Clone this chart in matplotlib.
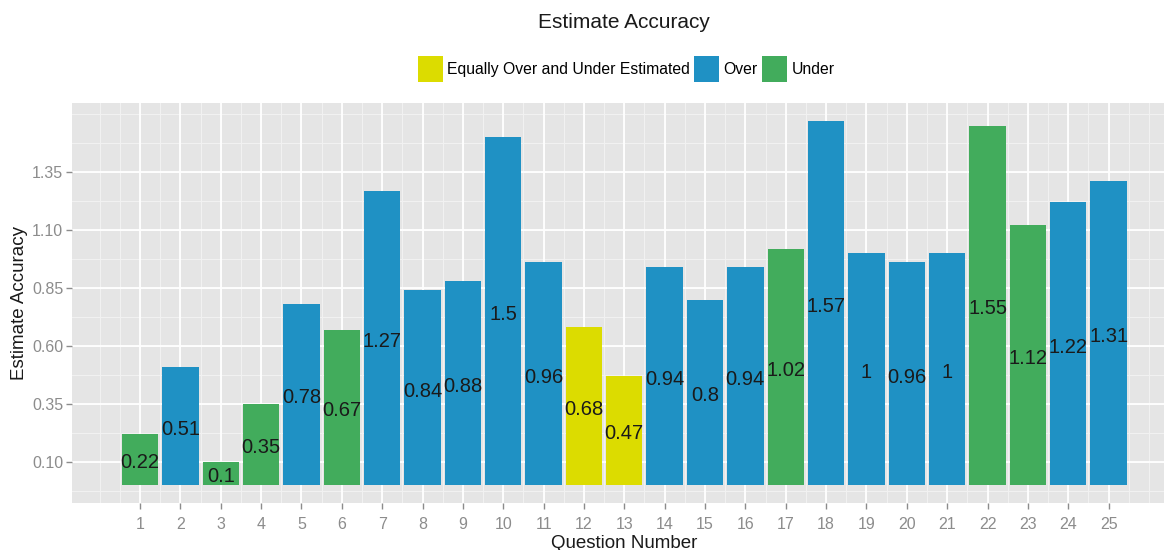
import numpy as np
import matplotlib
matplotlib.use('Agg')
import matplotlib.pyplot as plt
from matplotlib.patches import Patch

plt.rcParams['font.family'] = ['Liberation Sans', 'DejaVu Sans']

# data
questions = list(range(1, 26))
accuracy = [0.22, 0.51, 0.1, 0.35, 0.78, 0.67, 1.27, 0.84, 0.88, 1.5,
            0.96, 0.68, 0.47, 0.94, 0.8, 0.94, 1.02, 1.57, 1, 0.96,
            1, 1.55, 1.12, 1.22, 1.31]
estimate = ['Under', 'Over', 'Under', 'Under', 'Over', 'Under', 'Over', 'Over', 'Over', 'Over',
            'Over', 'Equally Over and Under Estimated', 'Equally Over and Under Estimated',
            'Over', 'Over', 'Over', 'Under', 'Over', 'Over', 'Over',
            'Over', 'Under', 'Under', 'Over', 'Over']
groups = ['Equally Over and Under Estimated', 'Over', 'Under']
y_breaks = [0.10, 0.35, 0.60, 0.85, 1.10, 1.35]

colors = {'Equally Over and Under Estimated': '#DCDC00',
          'Over': '#1F91C4',
          'Under': '#42AC5C'}

fig = plt.figure(figsize=(11.64, 5.5), dpi=100)
W, H = 1164, 550
left, right, top, bottom = 71.6, 1177, 103, 503
ax = fig.add_axes([left / W, 1 - bottom / H, (right - left) / W, (bottom - top) / H])
ax.set_facecolor('#E5E5E5')
for s in ax.spines.values():
    s.set_visible(False)

# ggplot-like limits: bars width 0.9, 5% expansion
xlo, xhi = 0.55, 25.45
ymax = max(accuracy)
ax.set_xlim(xlo - 0.05 * (xhi - xlo), xhi + 0.05 * (xhi - xlo))
ax.set_ylim(-0.05 * ymax, ymax * 1.05)

# grid: minor lines (incl. extension beyond breaks), then major
x_minor = np.arange(0, 26.01, 0.5)
y_minor = np.arange(y_breaks[0] - 0.25, y_breaks[-1] + 0.251, 0.125)
for xv in x_minor:
    ax.axvline(xv, color='#F2F2F2', lw=0.7, zorder=0)
for yv in y_minor:
    ax.axhline(yv, color='#F2F2F2', lw=0.7, zorder=0)
for xv in questions:
    ax.axvline(xv, color='white', lw=1.3, zorder=0.5)
for yv in y_breaks:
    ax.axhline(yv, color='white', lw=1.3, zorder=0.5)

bar_colors = [colors[e] for e in estimate]
ax.bar(questions, accuracy, width=0.9, color=bar_colors, zorder=2)

for q, v in zip(questions, accuracy):
    ax.annotate('{:g}'.format(v), (q, v / 2), xytext=(0, -2.5), textcoords='offset points',
                ha='center', va='center', fontsize=14.5, color='#1A1A1A', zorder=3)

ax.set_xticks(questions)
ax.set_xticklabels([str(q) for q in questions])
ax.set_yticks(y_breaks)
ax.set_yticklabels(['{:.2f}'.format(b) for b in y_breaks])
ax.tick_params(axis='both', colors='#8C8C8C', labelsize=11.5, length=4, width=1)
ax.tick_params(axis='x', pad=6)
ax.tick_params(axis='y', pad=2)

ax.set_xlabel('Question Number', fontsize=13.5, color='#1A1A1A', labelpad=2)
fig.text(20 / W, 1 - 303 / H, 'Estimate Accuracy', rotation=90, fontsize=13.5,
         color='#1A1A1A', ha='center', va='center')

fig.text(624 / W, 1 - 22 / H, 'Estimate Accuracy', fontsize=15, color='#1A1A1A',
         ha='center', va='center')

handles = [Patch(facecolor=colors[g], edgecolor='none', label=g) for g in groups]
fig.legend(handles=handles, loc='center', bbox_to_anchor=(626 / W, 1 - 69 / H),
           ncol=3, frameon=False, fontsize=11.3, handlelength=1.6, handleheight=2.2,
           handletextpad=0.25, columnspacing=0.3, borderaxespad=0)

fig.savefig('out.png', dpi=100)
